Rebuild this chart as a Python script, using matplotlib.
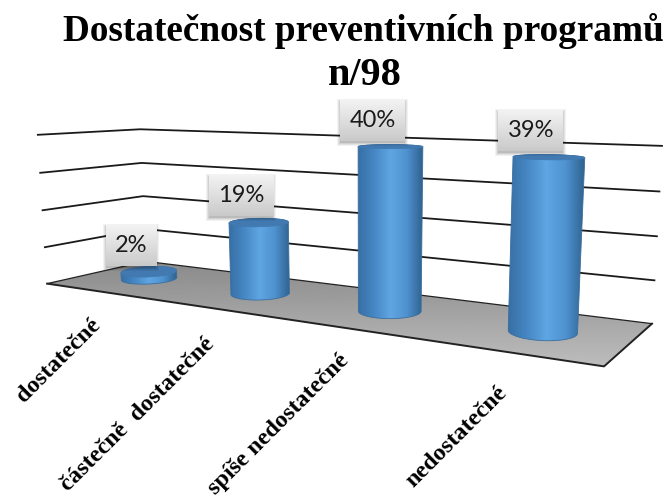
import numpy as np
import matplotlib
matplotlib.use("Agg")
import matplotlib.pyplot as plt
from matplotlib.colors import LinearSegmentedColormap
from matplotlib.patches import Polygon, Rectangle

title_lines = ["Dostatečnost preventivních programů", "n/98"]
categories = ["dostatečné", "částečně  dostatečné", "spíše nedostatečné", "nedostatečné"]
values = [2, 19, 40, 39]
grid_values = [10, 20, 30, 40]

W, H = 665, 503

# (category pos, depth, value) -> where the chart's corners sit on the picture
calib_src = [(0, 0, 0), (0, 1, 0), (4, 1, 0), (4, 0, 0), (0, 0, 40), (0, 1, 40), (4, 1, 40)]
calib_dst = [(47, 283), (146, 262), (652, 323), (604, 367), (38, 135), (140, 129), (662, 146)]


def fit_camera(src, dst):
    a = []
    b = []
    for (u, v, z), (x, y) in zip(src, dst):
        a.append([u, v, z, 1, 0, 0, 0, 0, -x * u, -x * v, -x * z])
        b.append(x)
        a.append([0, 0, 0, 0, u, v, z, 1, -y * u, -y * v, -y * z])
        b.append(y)
    p = np.linalg.lstsq(np.array(a, float), np.array(b, float), rcond=None)[0]
    return np.append(p, 1.0).reshape(3, 4)


cam = fit_camera(calib_src, calib_dst)


def proj(u, v, z):
    u, v, z = np.broadcast_arrays(np.asarray(u, float), np.asarray(v, float), np.asarray(z, float))
    q = np.stack([u, v, z, np.ones_like(u)], axis=-1) @ cam.T
    return q[..., 0] / q[..., 2], q[..., 1] / q[..., 2]


def hull(points):
    pts = sorted(map(tuple, points))

    def half(seq):
        out = []
        for p in seq:
            while len(out) > 1 and ((out[-1][0] - out[-2][0]) * (p[1] - out[-2][1])
                                    - (out[-1][1] - out[-2][1]) * (p[0] - out[-2][0])) <= 0:
                out.pop()
            out.append(p)
        return out[:-1]

    return np.array(half(pts) + half(pts[::-1]))


fig = plt.figure(figsize=(W / 100, H / 100), dpi=100)
ax = fig.add_axes([0, 0, 1, 1])
ax.set_axis_off()

# wall lines
for g in grid_values:
    x, y = proj([0, 0, 4], [0, 1, 1], g)
    ax.plot(x, y, color="#1a1a1a", lw=1.3, zorder=1, solid_joinstyle="miter")

# floor
fx, fy = proj([0, 0, 4, 4], [0, 1, 1, 0], 0)
floor = Polygon(np.c_[fx, fy], closed=True, transform=ax.transData, fc="none", ec="none")
ax.add_patch(floor)
grad = np.linspace(0.54, 0.74, 128).reshape(-1, 1)
im = ax.imshow(grad, cmap="gray", vmin=0, vmax=1, extent=(fx.min(), fx.max(), fy.max(), fy.min()),
               aspect="auto", zorder=2)
im.set_clip_path(floor)
ax.plot(fx[[0, 1, 2]], fy[[0, 1, 2]], color="#222222", lw=0.9, zorder=3)
ax.plot(fx[[0, 3, 2]], fy[[0, 3, 2]], color="#222222", lw=1.4, zorder=3)

# cylinders
shade = LinearSegmentedColormap.from_list("cyl", ["#376fa4", "#4687c4", "#5fa6e3", "#4f92d0", "#2f628f"])
ru, rv = 0.195, 0.2
height_scale = 0.975
theta = np.linspace(0, 2 * np.pi, 181)
strip = np.linspace(0, 1, 256).reshape(1, -1)
tops = []
for i, val in enumerate(values):
    cu = i + 0.5
    uu = cu + ru * np.cos(theta)
    vv = 0.5 + rv * np.sin(theta)
    bx, by = proj(uu, vv, 0)
    tx, ty = proj(uu, vv, val * height_scale)
    outline = hull(np.r_[np.c_[bx, by], np.c_[tx, ty]])
    body = Polygon(outline, closed=True, fc="none", ec="#3a6f9f", lw=0.6, zorder=4 + i + 0.1)
    ax.add_patch(body)
    left, right = outline[:, 0].min(), outline[:, 0].max()
    low, high = outline[:, 1].min(), outline[:, 1].max()
    img = ax.imshow(strip, cmap=shade, vmin=0, vmax=1, aspect="auto", zorder=4 + i,
                    extent=(left, right, high, low))
    img.set_clip_path(body)
    ax.add_patch(Polygon(np.c_[tx, ty], closed=True, fc="#4179b0", ec="#4179b0", lw=0.5, zorder=4 + i + 0.2))
    cx, cy = proj(cu, 0.5, val * height_scale)
    tops.append((float(cx), float(cy)))

# value labels
box_h = 41
renderer = fig.canvas.get_renderer()
box_grad = np.linspace(0.95, 0.79, 64).reshape(-1, 1)
for val, (cx, cy) in zip(values, tops):
    bx_c = cx - 18
    by_b = cy - 6
    t = ax.text(bx_c, by_b - box_h / 2, f"{val}%", ha="center", va="center", family="Lato",
                fontsize=17, color="#1a1a1a", zorder=12)
    w = t.get_window_extent(renderer).width + 18
    for s, a in [(4, 0.05), (3, 0.06), (2, 0.08), (1, 0.1)]:
        ax.add_patch(Rectangle((bx_c - w / 2 - s + 1, by_b - box_h - s + 3), w + 2 * s - 2, box_h + 2 * s - 2,
                               fc="black", ec="none", alpha=a, zorder=10))
    ax.imshow(box_grad, cmap="gray", vmin=0, vmax=1, aspect="auto", zorder=11,
              extent=(bx_c - w / 2, bx_c + w / 2, by_b, by_b - box_h))

# category labels, right end sits under the floor edge
label_ends = [(-1, 31), (-2, 33), (-3, 29), (-7, 37)]
for i, (name, (dx, dy)) in enumerate(zip(categories, label_ends)):
    x, y = proj(i + 0.5, 0, 0)
    ax.text(float(x) + dx, float(y) + dy, name, rotation=45, rotation_mode="anchor", ha="right", va="center",
            family="Liberation Serif", weight="bold", fontsize=17.5, color="black", zorder=12)

ax.text(363, 31, title_lines[0], ha="center", va="center", family="Liberation Serif", weight="bold",
        fontsize=26.8, color="black")
ax.text(365, 75, title_lines[1], ha="center", va="center", family="Liberation Serif", weight="bold",
        fontsize=29, color="black")

ax.set_xlim(0, W)
ax.set_ylim(H, 0)
fig.savefig("out.png", dpi=100)
